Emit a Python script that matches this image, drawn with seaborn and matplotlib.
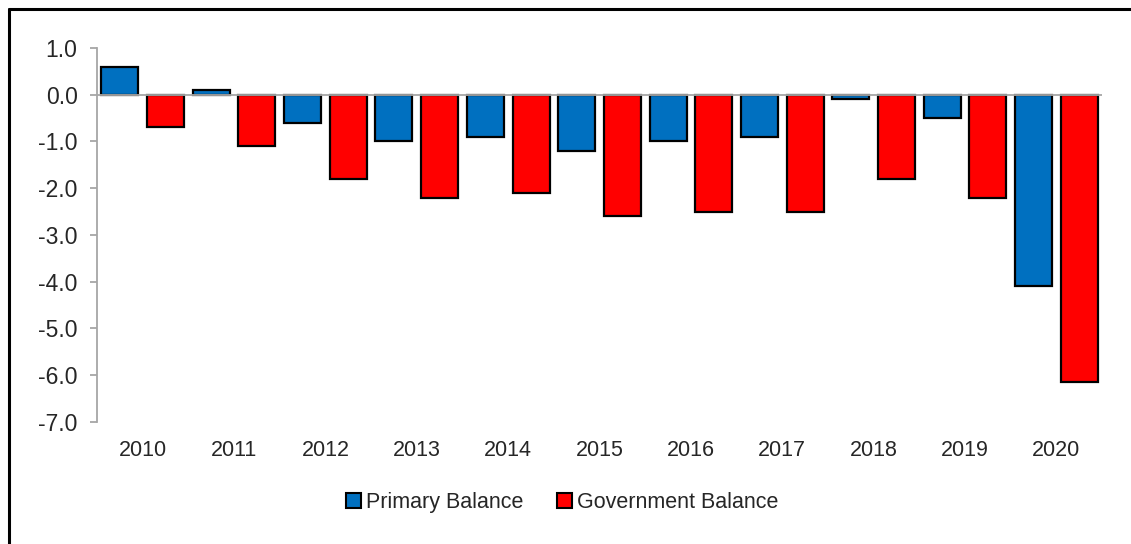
import pandas as pd
import matplotlib
matplotlib.use("Agg")
import matplotlib.pyplot as plt
from matplotlib.lines import Line2D
import seaborn as sns

# ---------------------------------------------------------------------------
# Datos
# ---------------------------------------------------------------------------
years = ["2010", "2011", "2012", "2013", "2014", "2015",
         "2016", "2017", "2018", "2019", "2020"]
primary_balance = [0.6, 0.1, -0.6, -1.0, -0.9, -1.2, -1.0, -0.9, -0.1, -0.5, -4.1]
government_balance = [-0.7, -1.1, -1.8, -2.2, -2.1, -2.6, -2.5, -2.5, -1.8, -2.2, -6.15]
series_names = ["Primary Balance", "Government Balance"]
colors = ["#0070C0", "#FF0000"]
y_ticks = [1.0, 0.0, -1.0, -2.0, -3.0, -4.0, -5.0, -6.0, -7.0]

sns.set_style("white")
plt.rcParams["font.family"] = ["Liberation Sans", "DejaVu Sans"]

df = pd.DataFrame({
    "year": years * 2,
    "value": primary_balance + government_balance,
    "serie": [series_names[0]] * len(years) + [series_names[1]] * len(years),
})

fig = plt.figure(figsize=(11.31, 5.44), dpi=100)
ax = fig.add_axes([0.0858, 0.2243, 0.9744 - 0.0858, 0.9118 - 0.2243])

sns.barplot(data=df, x="year", y="value", hue="serie", order=years,
            hue_order=series_names, palette=colors, width=1.0, gap=0.19,
            edgecolor="black", linewidth=1.6, saturation=1, ax=ax)

ax.set_xlim(-0.5, len(years) - 0.5)
ax.set_ylim(-7.0, 1.0)
ax.set_yticks(y_ticks)
ax.set_yticklabels([f"{t:.1f}" for t in y_ticks])
ax.axhline(0, color="#A6A6A6", linewidth=1.3, zorder=3)

for side in ["top", "right", "bottom"]:
    ax.spines[side].set_visible(False)
ax.spines["left"].set_color("#A6A6A6")
ax.spines["left"].set_linewidth(1.3)
ax.tick_params(axis="y", which="major", left=True, length=5, width=1.3,
               color="#A6A6A6", labelsize=16.5, pad=9)
ax.tick_params(axis="x", length=0, labelsize=15.5, pad=13)
ax.set_xlabel("")
ax.set_ylabel("")

ax.legend_.remove()
handles = [plt.Rectangle((0, 0), 1, 1, facecolor=c, edgecolor="black", linewidth=1.5)
           for c in colors]
fig.legend(handles, series_names, loc="center", bbox_to_anchor=(0.497, 0.077),
           ncol=2, frameon=False, fontsize=15.5, handlelength=0.7,
           handleheight=0.7, handletextpad=0.2, columnspacing=1.6)

# Marco superior e izquierdo de la imagen
fig.add_artist(Line2D([8.5 / 1131, 1.0], [1 - 8.5 / 544] * 2, color="black", linewidth=2.2))
fig.add_artist(Line2D([8.5 / 1131] * 2, [0.0, 1 - 8.5 / 544], color="black", linewidth=2.2))

fig.savefig("out.png", dpi=100)
